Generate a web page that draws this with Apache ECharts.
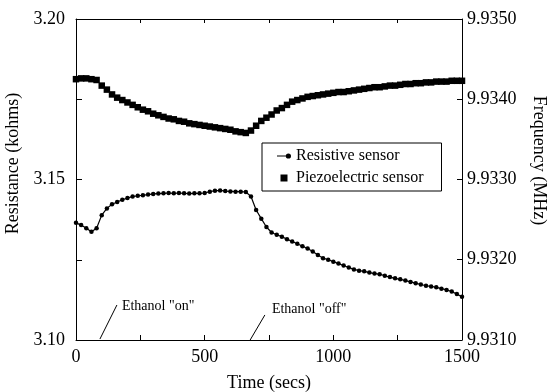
<!DOCTYPE html>
<html>
<head>
<meta charset="utf-8">
<script src="https://cdn.jsdelivr.net/npm/echarts@6/dist/echarts.min.js"></script>
<style>
html,body{margin:0;padding:0;background:#fff;}
#c{width:551px;height:392px;}
</style>
</head>
<body>
<div id="c"></div>
<script>
// Time axis (secs), sampled every 20 s
const times = [0,20,40,60,80,100,120,140,160,180,200,220,240,260,280,300,320,340,360,380,400,420,440,460,480,500,520,540,560,580,600,620,640,660,680,700,720,740,760,780,800,820,840,860,880,900,920,940,960,980,1000,1020,1040,1060,1080,1100,1120,1140,1160,1180,1200,1220,1240,1260,1280,1300,1320,1340,1360,1380,1400,1420,1440,1460,1480,1500];

// Resistive sensor (kohms, left axis)
const resistive = [3.1365,3.1358,3.1348,3.1337,3.1348,3.1389,3.1410,3.1423,3.1430,3.1437,3.1442,3.1447,3.1449,3.1451,3.1453,3.1455,3.1456,3.1457,3.1458,3.1457,3.1458,3.1457,3.1456,3.1457,3.1457,3.1458,3.1462,3.1465,3.1466,3.1464,3.1463,3.1462,3.1462,3.1461,3.1447,3.1405,3.1378,3.1352,3.1335,3.1328,3.1322,3.1314,3.1307,3.1300,3.1292,3.1285,3.1276,3.1265,3.1255,3.1250,3.1244,3.1238,3.1232,3.1226,3.1220,3.1216,3.1214,3.1210,3.1207,3.1205,3.1200,3.1196,3.1192,3.1189,3.1185,3.1181,3.1177,3.1173,3.1169,3.1167,3.1164,3.1160,3.1156,3.1151,3.1143,3.1135];

// Piezoelectric sensor (MHz, right axis)
const piezo = [9.93425,9.93426,9.93426,9.93425,9.93424,9.93417,9.93412,9.93406,9.93402,9.93399,9.93396,9.93393,9.93390,9.93387,9.93385,9.93382,9.93380,9.93378,9.93376,9.93375,9.93373,9.93372,9.93370,9.93369,9.93368,9.93367,9.93366,9.93365,9.93364,9.93363,9.93362,9.93360,9.93359,9.93358,9.93361,9.93367,9.93373,9.93377,9.93381,9.93386,9.93389,9.93393,9.93397,9.93399,9.93401,9.93403,9.93404,9.93405,9.93406,9.93407,9.93408,9.93409,9.93409,9.93410,9.93411,9.93412,9.93413,9.93414,9.93415,9.93415,9.93416,9.93417,9.93417,9.93418,9.93419,9.93419,9.93420,9.93420,9.93421,9.93421,9.93422,9.93422,9.93422,9.93423,9.93423,9.93423];

// Annotation pointer lines (time, resistance)
const onPointerTimes = [93, 159];
const onPointerRes = [3.1003, 3.1109];
const offPointerTimes = [676, 734];
const offPointerRes = [3.0999, 3.1078];

const seriesNames = ['Resistive sensor', 'Piezoelectric sensor'];
const annotationTexts = ['Ethanol "on"', 'Ethanol "off"'];

const FONT = 'Liberation Serif';
const chart = echarts.init(document.getElementById('c'), null, {renderer: 'canvas'});

const zip = (xs, ys) => xs.map((x, i) => [x, ys[i]]);

const option = {
  animation: false,
  backgroundColor: '#fff',
  grid: {left: 76, right: 89, top: 19, bottom: 52, outerBoundsMode: 'none', containLabel: false},
  legend: {
    data: [
      {name: seriesNames[0], icon: 'path://M0,3.4 H9 V4.6 H0 Z M14,4 A2.6,2.6 0 1,1 8.8,4 A2.6,2.6 0 1,1 14,4 Z'},
      {name: seriesNames[1], icon: 'path://M0,0 H6 V6 H0 Z'}
    ],
    orient: 'vertical',
    left: 262, top: 143,
    padding: [5, 18, 5, 15],
    itemWidth: 14, itemHeight: 7, itemGap: 6,
    borderColor: '#000', borderWidth: 1,
    backgroundColor: '#fff',
    textStyle: {fontFamily: FONT, fontSize: 16, color: '#000', lineHeight: 16}
  },
  xAxis: [{
    type: 'value', min: 0, max: 1500, interval: 250,
    name: 'Time (secs)', nameLocation: 'middle', nameGap: 34,
    nameTextStyle: {fontFamily: FONT, fontSize: 18, color: '#000'},
    axisLine: {show: true, onZero: false, lineStyle: {color: '#000', width: 1}},
    axisTick: {show: true, inside: true, length: 5, lineStyle: {color: '#000'}},
    axisLabel: {fontFamily: FONT, fontSize: 18, color: '#000', margin: 8,
      formatter: v => (v % 500 === 0 ? String(v) : '')},
    splitLine: {show: false}
  }, {
    type: 'value', position: 'top', min: 0, max: 1500, interval: 250,
    axisLine: {show: true, onZero: false, lineStyle: {color: '#000', width: 1}},
    axisTick: {show: true, inside: true, length: 4, lineStyle: {color: '#000'}},
    axisLabel: {show: false},
    splitLine: {show: false}
  }],
  yAxis: [{
    type: 'value', min: 3.10, max: 3.20, interval: 0.025,
    name: 'Resistance (kohms)', nameLocation: 'middle', nameGap: 45, nameRotate: 90,
    nameTextStyle: {fontFamily: FONT, fontSize: 18, color: '#000', padding: [0, 0, 0, 32]},
    axisLine: {show: true, onZero: false, lineStyle: {color: '#000', width: 1}},
    axisTick: {show: true, inside: true, length: 6, lineStyle: {color: '#000'}},
    axisLabel: {fontFamily: FONT, fontSize: 18, color: '#000', margin: 11,
      formatter: v => { const k = Math.round(v * 1000); return k % 50 === 0 ? (k / 1000).toFixed(2) : ''; }},
    splitLine: {show: false}
  }, {
    type: 'value', position: 'right', min: 9.9310, max: 9.9350, interval: 0.0010,
    name: 'Frequency (MHz)', nameLocation: 'middle', nameGap: 68, nameRotate: -90,
    nameTextStyle: {fontFamily: FONT, fontSize: 18, color: '#000', padding: [0, 38, 0, 0]},
    axisLine: {show: true, onZero: false, lineStyle: {color: '#000', width: 1}},
    axisTick: {show: true, inside: true, length: 5, lineStyle: {color: '#000'}},
    axisLabel: {fontFamily: FONT, fontSize: 18, color: '#000', margin: 5,
      formatter: v => v.toFixed(4)},
    splitLine: {show: false}
  }],
  series: [{
    name: seriesNames[0], type: 'line', xAxisIndex: 0, yAxisIndex: 0,
    data: zip(times, resistive),
    symbol: 'circle', symbolSize: 4.5, showSymbol: true,
    itemStyle: {color: '#000'},
    lineStyle: {color: '#000', width: 1.2}
  }, {
    name: seriesNames[1], type: 'scatter', xAxisIndex: 0, yAxisIndex: 1,
    data: zip(times, piezo),
    symbol: 'rect', symbolSize: 6.5,
    itemStyle: {color: '#000', opacity: 1}
  }, {
    name: 'annot-on', type: 'line', xAxisIndex: 0, yAxisIndex: 0,
    data: zip(onPointerTimes, onPointerRes),
    symbol: 'none', silent: true,
    lineStyle: {color: '#000', width: 1},
    endLabel: {show: true, formatter: annotationTexts[0], distance: 5, offset: [0, 1],
      fontFamily: FONT, fontSize: 14, color: '#000'}
  }, {
    name: 'annot-off', type: 'line', xAxisIndex: 0, yAxisIndex: 0,
    data: zip(offPointerTimes, offPointerRes),
    symbol: 'none', silent: true,
    lineStyle: {color: '#000', width: 1},
    endLabel: {show: true, formatter: annotationTexts[1], distance: 7, offset: [0, -6],
      fontFamily: FONT, fontSize: 14, color: '#000'}
  }]
};
chart.setOption(option);
</script>
</body>
</html>
